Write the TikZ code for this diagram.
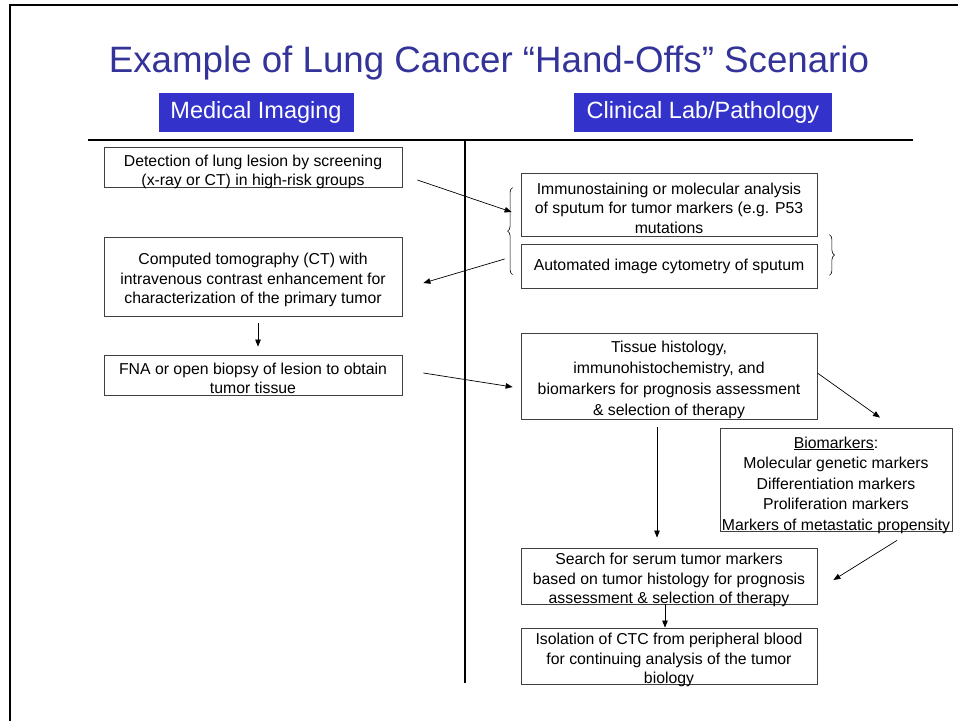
\documentclass[tikz,border=0pt]{standalone}
\usepackage{fontspec}
\setmainfont{Liberation Sans}
\usetikzlibrary{arrows.meta,decorations.pathreplacing}
\definecolor{titleblue}{RGB}{51,51,153}
\definecolor{headblue}{RGB}{51,51,204}
\definecolor{boxline}{RGB}{64,64,64}
\newcommand\tpad[1][18.5pt]{\rule{0pt}{#1}}
\newcommand\nodp[1]{\raisebox{0pt}[\height][0pt]{#1}}
\begin{document}
\begin{tikzpicture}[x=1pt,y=-1pt,
  box/.style={draw=boxline,line width=0.8pt,inner sep=0pt,align=center,
    font=\fontsize{15.8}{19.5}\selectfont},
  head/.style={fill=headblue,text=white,inner sep=0pt,
    font=\fontsize{23.5}{25}\selectfont},
  arr/.style={-{Triangle[length=7pt,width=5.5pt]},line width=0.7pt},
  rule/.style={line width=2.6pt},
  brc/.style={decorate,decoration={brace,amplitude=5pt},line width=0.6pt}]
\useasboundingbox (0,0) rectangle (958,721);
% frame
\draw[line width=2.4pt] (10,721) -- (10,5) -- (958,5);
% title
\node[anchor=base,text=titleblue,font=\fontsize{36.7}{40}\selectfont,inner sep=0pt] (title) at (489,72) {Example of Lung Cancer “Hand-Offs” Scenario};
% headers
\node[head,minimum width=195pt,minimum height=39pt] (h1) at (256,112.5) {Medical Imaging};
\node[head,minimum width=258pt,minimum height=39pt] (h2) at (703,112.5) {Clinical Lab/Pathology};
% dividers
\draw[rule] (88,140) -- (913,140);
\draw[rule] (465,140) -- (465,683);
% boxes
\node[box,minimum width=298pt,minimum height=40pt] (b1) at (253,167) {\tpad[17.5pt]Detection of lung lesion by screening\\\nodp{(x-ray or CT) in high-risk groups}};
\node[box,minimum width=298pt,minimum height=79pt] (b2) at (253,276.5) {\tpad Computed tomography (CT) with\\intravenous contrast enhancement for\\characterization of the primary tumor};
\node[box,minimum width=298pt,minimum height=40pt] (b3) at (253,375) {\tpad[17.5pt]FNA or open biopsy of lesion to obtain\\\nodp{tumor tissue}};
\node[box,minimum width=296pt,minimum height=63pt] (b4) at (669,204.5) {\tpad Immunostaining or molecular analysis\\of sputum for tumor markers (e.g. P53\\mutations};
\node[box,minimum width=296pt,minimum height=44pt] (b5) at (669,266) {Automated image cytometry of sputum};
\node[box,minimum width=296pt,minimum height=86pt,font=\fontsize{15.8}{21}\selectfont] (b6) at (669,376) {\tpad Tissue histology,\\immunohistochemistry, and\\biomarkers for prognosis assessment\\\& selection of therapy};
\node[box,minimum width=232pt,minimum height=103pt,font=\fontsize{15.8}{20.5}\selectfont] (b7) at (836,479.5) {\tpad[19pt]\underline{Biomarkers}:\\Molecular genetic markers\\Differentiation markers\\Proliferation markers\\\nodp{Markers of metastatic propensity}};
\node[box,minimum width=296pt,minimum height=56pt] (b8) at (669,576) {\tpad[16pt]Search for serum tumor markers\\based on tumor histology for prognosis\\\nodp{assessment \& selection of therapy}};
\node[box,minimum width=296pt,minimum height=56pt] (b9) at (669,656) {\tpad[16pt]Isolation of CTC from peripheral blood\\for continuing analysis of the tumor\\\nodp{biology}};
% braces
\draw[brc] ([shift={(-8,102)}]b4.north west) -- ([shift={(-8,15)}]b4.north west);
\draw[brc] ([shift={(12,-9)}]b5.north east) -- ([shift={(12,-13)}]b5.south east);
% arrows
\draw[arr] ([shift={(15,13)}]b1.east) -- ([shift={(-9,7.5)}]b4.west);
\draw[arr] ([shift={(-16,-7)}]b5.west) -- ([shift={(21,6.5)}]b2.east);
\draw[arr] ([shift={(5,7)}]b2.south) -- ([shift={(5,-8)}]b3.north);
\draw[arr] ([shift={(21,-2)}]b3.east) -- ([shift={(-8,11)}]b6.west);
\draw[arr] ([shift={(0,-3)}]b6.east) -- ([shift={(44,-10)}]b7.north);
\draw[arr] ([shift={(-12,8)}]b6.south) -- ([shift={(-12,-10)}]b8.north);
\draw[arr] ([shift={(61,9)}]b7.south) -- ([shift={(16,4)}]b8.east);
\draw[arr] ([shift={(-4,0)}]b8.south) -- ([shift={(-4,0)}]b9.north);
\end{tikzpicture}
\end{document}
